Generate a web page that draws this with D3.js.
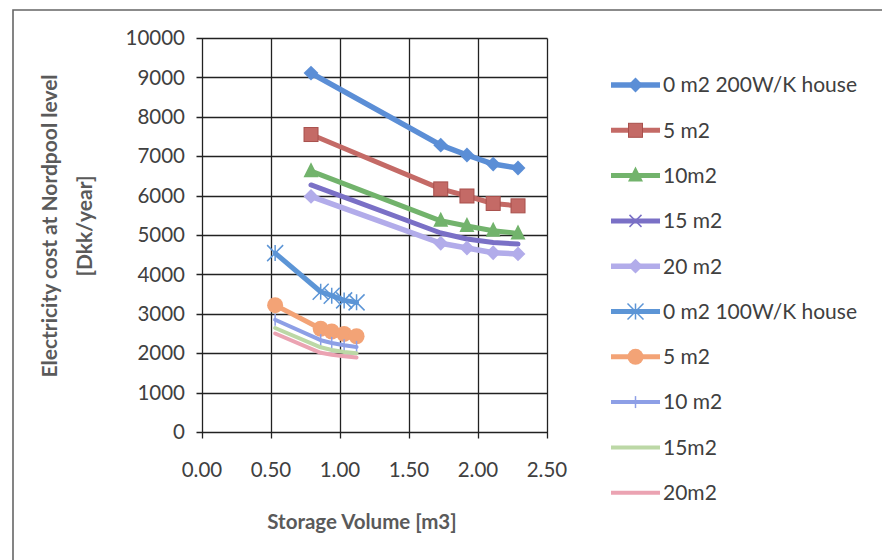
<!DOCTYPE html>
<html><head><meta charset="utf-8">
<script src="https://cdn.jsdelivr.net/npm/d3@7"></script>
<style>body{margin:0;background:#fff}svg{display:block}</style>
</head><body><svg id="c" width="882" height="560"></svg>
<script>
const xTicks = [0, 0.5, 1.0, 1.5, 2.0, 2.5];
const yTicks = [0,1000,2000,3000,4000,5000,6000,7000,8000,9000,10000];
const xHeavy = [0.79, 1.73, 1.92, 2.11, 2.29];
const xLight = [0.53, 0.86, 0.94, 1.03, 1.12];
const names = ["0 m2 200W/K house","5 m2","10m2","15 m2","20 m2","0 m2 100W/K house","5 m2","10 m2","15m2","20m2"];
const s200_0  = [9110, 7280, 7030, 6800, 6700];
const s200_5  = [7550, 6170, 5990, 5800, 5740];
const s200_10 = [6620, 5360, 5230, 5110, 5040];
const s200_15 = [6270, 5050, 4900, 4810, 4770];
const s200_20 = [5980, 4790, 4670, 4550, 4520];
const s100_0  = [4540, 3560, 3460, 3340, 3290];
const s100_5  = [3220, 2620, 2550, 2490, 2430];
const s100_10 = [2850, 2330, 2260, 2200, 2160];
const s100_15 = [2640, 2150, 2080, 2030, 2000];
const s100_20 = [2500, 2010, 1960, 1920, 1890];

const series = [
 {n:names[0], xs:xHeavy, ys:s200_0, c:"#5b8ed6", m:"diamond", w:5.5},
 {n:names[1], xs:xHeavy, ys:s200_5, c:"#c46a66", m:"square", w:5},
 {n:names[2], xs:xHeavy, ys:s200_10, c:"#72b36c", m:"triangle", w:5},
 {n:names[3], xs:xHeavy, ys:s200_15, c:"#7a70c6", m:"x", w:5},
 {n:names[4], xs:xHeavy, ys:s200_20, c:"#b2acea", m:"diamond", w:5.5},
 {n:names[5], xs:xLight, ys:s100_0, c:"#5c95d6", m:"star", w:5},
 {n:names[6], xs:xLight, ys:s100_5, c:"#f3a376", m:"circle", w:5},
 {n:names[7], xs:xLight, ys:s100_10, c:"#8d9fe6", m:"plus", w:4},
 {n:names[8], xs:xLight, ys:s100_15, c:"#bcd8a6", m:"none", w:4},
 {n:names[9], xs:xLight, ys:s100_20, c:"#eba3b2", m:"none", w:4}
];

const svg = d3.select("#c");
const font = "Lato, 'Open Sans', sans-serif";
svg.append("path").attr("d","M13,560 V10 H882").attr("fill","none").attr("stroke","#666").attr("stroke-width",1.6);

const x = d3.scaleLinear().domain([0,2.5]).range([202,547]);
const y = d3.scaleLinear().domain([0,10000]).range([432,38]);
const cx = v => Math.round(x(v)) + 0.5, cy = v => Math.round(y(v)) + 0.5;

const g = svg.append("g");
g.selectAll("line.h").data(yTicks).join("line").attr("x1",cx(0)-6).attr("x2",cx(2.5))
 .attr("y1",d=>cy(d)).attr("y2",d=>cy(d)).attr("stroke","#222").attr("stroke-width",1.3);
g.selectAll("line.v").data(xTicks).join("line").attr("y1",cy(10000)).attr("y2",cy(0)+6)
 .attr("x1",d=>cx(d)).attr("x2",d=>cx(d)).attr("stroke","#222").attr("stroke-width",1.3);

g.selectAll("text.yl").data(yTicks).join("text").attr("x",185).attr("y",d=>y(d)).attr("dy","0.35em")
 .attr("text-anchor","end").attr("font-family",font).attr("font-size",20.5).attr("fill","#404040").text(d=>d);
g.selectAll("text.xl").data(xTicks).join("text").attr("x",d=>x(d)).attr("y",470).attr("dy","0.35em")
 .attr("text-anchor","middle").attr("font-family",font).attr("font-size",20.5).attr("fill","#404040").text(d=>d.toFixed(2));

svg.append("text").attr("x",362).attr("y",522).attr("dy","0.35em").attr("text-anchor","middle")
 .attr("font-family",font).attr("font-weight","bold").attr("font-size",20.5).attr("fill","#5a5a5a").text("Storage Volume [m3]");
const yt = svg.append("text").attr("transform","translate(50,226) rotate(-90)").attr("text-anchor","middle")
 .attr("font-family",font).attr("font-weight","bold").attr("font-size",21).attr("fill","#5a5a5a");
yt.append("tspan").attr("x",0).attr("dy","0.35em").text("Electricity cost at Nordpool level");
yt.append("tspan").attr("x",0).attr("dy","35px").text("[Dkk/year]");

function marker(sel, m, c, s) {
  if (m==="diamond") sel.append("rect").attr("x",-s/2).attr("y",-s/2).attr("width",s).attr("height",s).attr("transform","rotate(45)").attr("fill",c);
  else if (m==="square") sel.append("rect").attr("x",-s/2).attr("y",-s/2).attr("width",s).attr("height",s).attr("fill",c).attr("stroke","#a8504c").attr("stroke-width",1);
  else if (m==="triangle") sel.append("path").attr("d",`M0,${-s*0.6}L${s/2},${s*0.4}L${-s/2},${s*0.4}Z`).attr("fill",c);
  else if (m==="circle") sel.append("circle").attr("r",s/2).attr("fill",c);
  else if (m==="x") sel.append("path").attr("d",`M${-s/2},${-s/2}L${s/2},${s/2}M${-s/2},${s/2}L${s/2},${-s/2}`).attr("stroke",c).attr("stroke-width",1.5);
  else if (m==="star") sel.append("path").attr("d",`M${-s/2},${-s/2}L${s/2},${s/2}M${-s/2},${s/2}L${s/2},${-s/2}M0,${-s/2}L0,${s/2}`).attr("stroke",c).attr("stroke-width",1.5);
  else if (m==="plus") sel.append("path").attr("d",`M0,${-s/2}L0,${s/2}`).attr("stroke",c).attr("stroke-width",1.5);
}
const msize = {diamond:10.5, square:14, triangle:15, circle:16, x:12, star:16, plus:12};

const line = d3.line().x(d=>x(d[0])).y(d=>y(d[1]));
series.forEach(s => {
  const pts = s.xs.map((v,i)=>[v, s.ys[i]]);
  g.append("path").attr("d", line(pts)).attr("fill","none").attr("stroke",s.c).attr("stroke-width",s.w).attr("stroke-linejoin","round").attr("stroke-linecap","round");
  if (s.m!=="none" && s.m!=="x") {
    pts.forEach(p => {
      const mg = g.append("g").attr("transform",`translate(${x(p[0])},${y(p[1])})`);
      marker(mg, s.m, s.c, msize[s.m]);
    });
  }
});

const lg = svg.append("g");
series.forEach((s,i) => {
  const yy = 85 + i*45.3;
  lg.append("line").attr("x1",611).attr("x2",660).attr("y1",yy).attr("y2",yy).attr("stroke",s.c).attr("stroke-width",s.w);
  if (s.m!=="none") {
    const mg = lg.append("g").attr("transform",`translate(635.5,${yy})`);
    marker(mg, s.m, s.c, msize[s.m]);
  }
  lg.append("text").attr("x",663).attr("y",yy).attr("dy","0.35em").attr("font-family",font).attr("font-size",21)
    .attr("fill","#404040").text(s.n);
});
</script></body></html>
